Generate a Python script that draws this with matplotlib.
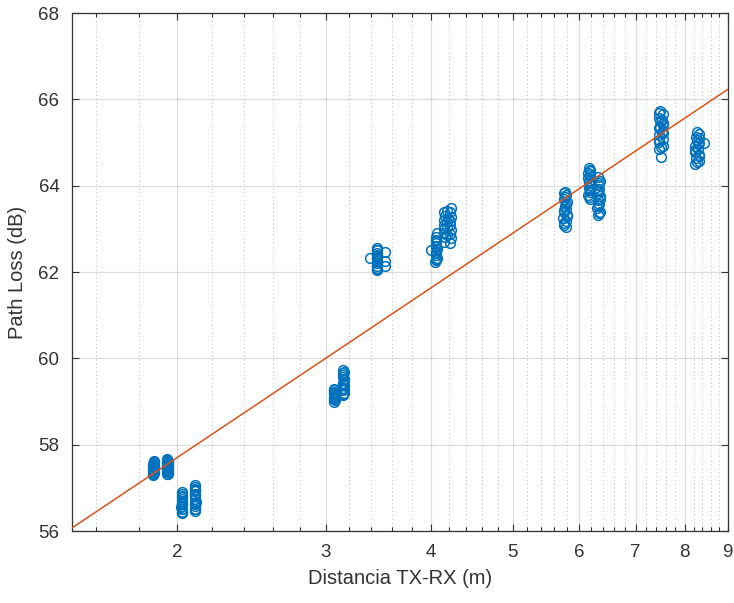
import matplotlib
matplotlib.use("Agg")
import matplotlib.pyplot as plt
from matplotlib.ticker import FixedLocator, NullFormatter

plt.rcParams['font.family'] = ['Liberation Sans', 'DejaVu Sans']

# --- data ---
d_c1 = [1.872, 1.876, 1.874, 1.878, 1.873, 1.877, 1.875, 1.872, 1.878, 1.874, 1.876, 1.875,
        1.873, 1.877, 1.875, 1.874, 1.876, 1.875]
pl_c1 = [57.30, 57.34, 57.38, 57.41, 57.44, 57.46, 57.48, 57.50, 57.52, 57.55, 57.58, 57.62,
         57.32, 57.36, 57.43, 57.49, 57.54, 57.60]
d_c2 = [1.946, 1.950, 1.948, 1.945, 1.951, 1.947, 1.949, 1.946, 1.950, 1.948, 1.947,
        1.949, 1.946, 1.950, 1.948, 1.947]
pl_c2 = [57.31, 57.36, 57.40, 57.44, 57.47, 57.50, 57.53, 57.56, 57.60, 57.63, 57.66,
         57.33, 57.42, 57.49, 57.58, 57.64]
d_c3 = [2.024, 2.028, 2.026, 2.023, 2.027, 2.025, 2.029, 2.026, 2.024, 2.027, 2.026, 2.025,
        2.025, 2.027, 2.024, 2.026]
pl_c3 = [56.41, 56.45, 56.50, 56.55, 56.58, 56.62, 56.66, 56.70, 56.75, 56.80, 56.85, 56.90,
         56.43, 56.52, 56.68, 56.78]
d_c4 = [2.098, 2.102, 2.100, 2.097, 2.103, 2.099, 2.101, 2.100, 2.098, 2.102, 2.100, 2.101,
        2.099, 2.101, 2.100, 2.102]
pl_c4 = [56.47, 56.52, 56.57, 56.62, 56.68, 56.74, 56.80, 56.86, 56.92, 56.97, 57.02, 57.07,
         56.50, 56.65, 56.83, 56.95]
d_c5 = [3.070, 3.074, 3.072, 3.068, 3.075, 3.071, 3.073, 3.070, 3.072, 3.069, 3.074, 3.071]
pl_c5 = [58.99, 59.03, 59.07, 59.10, 59.14, 59.18, 59.22, 59.26, 59.30, 59.05, 59.12, 59.20]
d_c6 = [3.148, 3.152, 3.150, 3.147, 3.153, 3.149, 3.151, 3.150, 3.148, 3.152, 3.150,
        3.149, 3.151, 3.150, 3.152, 3.148]
pl_c6 = [59.15, 59.20, 59.26, 59.32, 59.38, 59.44, 59.50, 59.56, 59.62, 59.68, 59.74,
         59.18, 59.29, 59.41, 59.53, 59.65]
d_c7 = [3.450, 3.455, 3.452, 3.448, 3.456, 3.451, 3.454, 3.450, 3.453, 3.449, 3.452,
        3.390, 3.530, 3.530, 3.525, 3.451, 3.453, 3.450, 3.452]
pl_c7 = [62.05, 62.10, 62.15, 62.20, 62.25, 62.30, 62.35, 62.40, 62.45, 62.50, 62.55,
         62.32, 62.47, 62.13, 62.25, 62.08, 62.22, 62.38, 62.52]
d_c8 = [4.058, 4.062, 4.060, 4.056, 4.063, 4.059, 4.061, 4.060, 4.057, 4.062, 4.000, 4.050,
        4.059, 4.061, 4.058, 4.060]
pl_c8 = [62.27, 62.33, 62.40, 62.47, 62.54, 62.61, 62.68, 62.75, 62.82, 62.90, 62.52, 62.24,
         62.30, 62.44, 62.58, 62.72]
d_c9 = [4.150, 4.152, 4.148, 4.151, 4.150, 4.149, 4.152, 4.150,
        4.220, 4.222, 4.218, 4.221, 4.220, 4.219, 4.222, 4.220, 4.221,
        4.185, 4.180, 4.190, 4.185, 4.182]
pl_c9 = [62.70, 62.80, 62.90, 63.00, 63.10, 63.20, 63.30, 63.40,
         62.68, 62.78, 62.88, 62.98, 63.08, 63.18, 63.28, 63.38, 63.48,
         62.85, 63.05, 63.25, 63.42, 63.15]
d_c10 = [5.760, 5.790, 5.745, 5.800, 5.755, 5.785, 5.770, 5.795, 5.750, 5.780, 5.765, 5.790,
         5.748, 5.798, 5.762, 5.782, 5.775, 5.757]
pl_c10 = [63.10, 63.18, 63.25, 63.32, 63.40, 63.47, 63.54, 63.62, 63.70, 63.78, 63.86, 63.05,
          63.14, 63.29, 63.44, 63.58, 63.74, 63.82]
d_c11 = [6.170, 6.150, 6.185, 6.160, 6.180, 6.155, 6.150, 6.185, 6.170, 6.160,
         6.163, 6.182, 6.168, 6.186, 6.151, 6.175]
pl_c11 = [63.70, 63.78, 63.86, 63.94, 64.02, 64.10, 64.18, 64.26, 64.34, 64.40,
          63.74, 63.90, 64.06, 64.22, 64.30, 64.37]
d_c12 = [6.310, 6.345, 6.305, 6.335, 6.320, 6.350, 6.308, 6.340, 6.322, 6.345, 6.315,
         6.336, 6.307, 6.348, 6.321, 6.339]
pl_c12 = [63.32, 63.40, 63.48, 63.57, 63.66, 63.75, 63.84, 63.93, 64.02, 64.11, 64.20,
          63.36, 63.52, 63.70, 63.88, 64.06]
d_c13 = [7.450, 7.550, 7.470, 7.540, 7.460, 7.530, 7.450, 7.550, 7.490, 7.465, 7.535, 7.475, 7.500,
         7.510, 7.455, 7.545, 7.485, 7.520, 7.460, 7.540]
pl_c13 = [64.85, 64.93, 65.01, 65.09, 65.17, 65.25, 65.33, 65.41, 65.49, 65.57, 65.65, 65.73, 64.66,
          64.89, 65.05, 65.21, 65.37, 65.53, 65.69, 65.45]
d_c14 = [8.230, 8.320, 8.250, 8.330, 8.240, 8.310, 8.230, 8.320, 8.280, 8.245, 8.330, 8.270, 8.430,
         8.265, 8.315, 8.240, 8.300, 8.325]
pl_c14 = [64.50, 64.57, 64.64, 64.71, 64.78, 64.85, 64.92, 64.99, 65.06, 65.13, 65.20, 65.25, 64.98,
          64.54, 64.68, 64.82, 64.96, 65.10]

clusters_d = [d_c1, d_c2, d_c3, d_c4, d_c5, d_c6, d_c7, d_c8, d_c9, d_c10, d_c11, d_c12, d_c13, d_c14]
clusters_pl = [pl_c1, pl_c2, pl_c3, pl_c4, pl_c5, pl_c6, pl_c7, pl_c8, pl_c9, pl_c10, pl_c11, pl_c12, pl_c13, pl_c14]

fit_d = [1.5, 9.0]
fit_pl = [56.07, 66.23]

x_ticks = [2, 3, 4, 5, 6, 7, 8, 9]
x_ticklabels = ['2', '3', '4', '5', '6', '7', '8', '9']
x_minor = [1.6, 1.8, 2.2, 2.4, 2.6, 2.8, 3.2, 3.4, 3.6, 3.8, 4.2, 4.4, 4.6, 4.8,
           5.2, 5.4, 5.6, 5.8, 6.2, 6.4, 6.6, 6.8, 7.2, 7.4, 7.6, 7.8,
           8.2, 8.4, 8.6, 8.8]
y_ticks = [56, 58, 60, 62, 64, 66, 68]

# --- plot ---
fig = plt.figure(figsize=(7.34, 6.03), dpi=100)
ax = fig.add_axes([0.098, 0.1194, 0.8934, 0.859])

blue = (0.0, 0.447, 0.741)
orange = (0.85, 0.325, 0.098)
dark = '#333333'

all_d = [v for c in clusters_d for v in c]
all_pl = [v for c in clusters_pl for v in c]
ax.plot(all_d, all_pl, linestyle='none', marker='o', markersize=7.0,
        markerfacecolor='none', markeredgecolor=blue, markeredgewidth=1.1, zorder=3)
ax.plot(fit_d, fit_pl, color=orange, linewidth=1.1, zorder=4)

ax.set_xscale('log')
ax.set_xlim(1.5, 9)
ax.set_ylim(56, 68)
ax.xaxis.set_major_locator(FixedLocator(x_ticks))
ax.set_xticklabels(x_ticklabels)
ax.xaxis.set_minor_locator(FixedLocator(x_minor))
ax.xaxis.set_minor_formatter(NullFormatter())
ax.set_yticks(y_ticks)

ax.grid(True, which='major', color=(0.15, 0.15, 0.15), alpha=0.15, linewidth=0.9)
ax.grid(True, which='minor', axis='x', color=(0.15, 0.15, 0.15), alpha=0.3,
        linewidth=0.7, linestyle=(0, (1, 3)))
ax.set_axisbelow(True)

ax.tick_params(which='both', direction='in', top=True, right=True, colors=dark,
               labelsize=13.5, width=0.8)
ax.tick_params(which='major', length=5, pad=9)
ax.tick_params(which='minor', length=3)
for s in ax.spines.values():
    s.set_color(dark)
    s.set_linewidth(0.9)

ax.set_xlabel('Distancia TX-RX (m)', fontsize=14.5, color=dark, labelpad=6)
ax.set_ylabel('Path Loss (dB)', fontsize=14.5, color=dark, labelpad=8)

fig.savefig('out.png', dpi=100)
